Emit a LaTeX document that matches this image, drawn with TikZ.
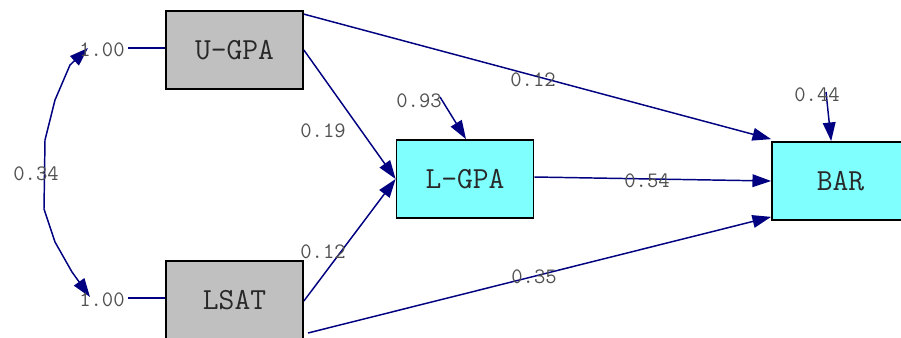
\documentclass[tikz,border=0pt]{standalone}
\usetikzlibrary{arrows.meta}
\definecolor{navy}{RGB}{0,0,128}
\definecolor{boxgray}{RGB}{192,192,192}
\definecolor{boxcyan}{RGB}{128,255,255}
\definecolor{labgray}{RGB}{80,80,80}
\definecolor{txtdark}{RGB}{40,40,40}
\tikzset{
  varbox/.style={draw=black, line width=1.3pt, inner sep=0pt,
    minimum width=102.75pt, minimum height=58.5pt,
    font=\ttfamily\fontsize{23}{25}\selectfont, text=txtdark},
  obsx/.style={varbox, fill=boxgray},
  obsy/.style={varbox, fill=boxcyan},
  conn/.style={draw=navy, line width=1.1pt},
  arr/.style={conn, -{Triangle[length=14pt,width=9.5pt]}},
  darr/.style={conn, {Triangle[length=14pt,width=9.5pt]}-{Triangle[length=14pt,width=9.5pt]}},
  lab/.style={font=\ttfamily\fontsize{16.5}{18}\selectfont, text=labgray, inner sep=0pt}
}
\begin{document}
\begin{tikzpicture}[x=0.75pt, y=-0.75pt]
\clip (0,0) rectangle (901,337);
% boxes
\node[obsx] (ugpa) at (234.5,50) {U-GPA};
\node[obsx] (lsat) at (234.5,300) {LSAT};
\node[obsy] (lgpa) at (465,179) {L-GPA};
\node[obsy] (bar) at (840.5,181) {BAR};
% free ends
\coordinate (v1) at (128,48);
\coordinate (v2) at (128,298);
\coordinate (e1) at (440,97);
\coordinate (e2) at (826,92);
\coordinate (c1) at (88,48);
\coordinate (c2) at (90,297);
\coordinate (ls2) at (308,333);
% variance lines
\draw[conn] (v1) -- ([yshift=1.5pt]ugpa.west);
\draw[conn] (v2) -- ([yshift=1.5pt]lsat.west);
% covariance curve
\draw[darr] (c1) -- (70,65) -- (55,100) -- (45,140) -- (44,209) -- (55,242) -- (72,272) -- (c2);
% paths
\draw[arr] ([yshift=-3pt]ugpa.north east) -- ([yshift=1.5pt]bar.north west);
\draw[arr] (ugpa.east) -- (lgpa.west);
\draw[arr] ([yshift=-0.75pt]lsat.east) -- (lgpa.west);
\draw[arr] ([yshift=1.5pt]lgpa.east) -- (bar.west);
\draw[arr] (ls2) -- ([yshift=3pt]bar.south west);
\draw[arr] (e1) -- ([xshift=0.75pt]lgpa.north);
\draw[arr] (e2) -- ([xshift=-7pt]bar.north);
% labels
\node[lab] (l100a) at (102,50) {1.00};
\node[lab] (l100b) at (102,300) {1.00};
\node[lab] (l34) at (36,174) {0.34};
\node[lab] (l12a) at (533,80) {0.12};
\node[lab] (l19) at (323,131) {0.19};
\node[lab] (l93) at (419,101) {0.93};
\node[lab] (l44) at (817,95) {0.44};
\node[lab] (l12b) at (323,252) {0.12};
\node[lab] (l54) at (647,181) {0.54};
\node[lab] (l35) at (534,277) {0.35};
\end{tikzpicture}
\end{document}
